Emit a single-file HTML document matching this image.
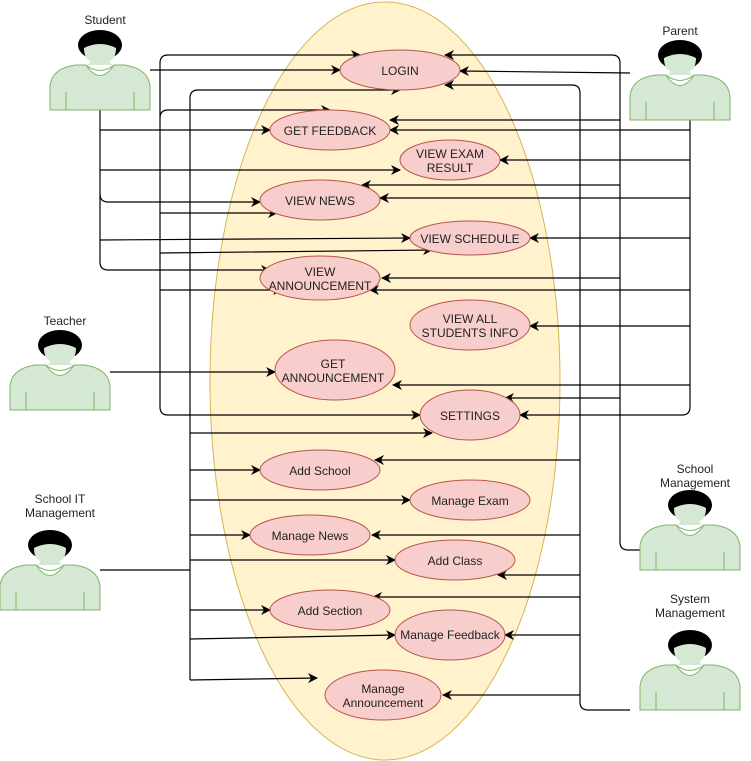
<!DOCTYPE html>
<html><head><meta charset="utf-8"><style>
body{margin:0;background:#fff;}
svg{display:block;font-family:"Liberation Sans",sans-serif;}
</style></head><body>
<svg width="751" height="761" viewBox="0 0 751 761" xmlns="http://www.w3.org/2000/svg">
<defs>
<marker id="a" markerWidth="10" markerHeight="10" refX="9" refY="5" orient="auto" markerUnits="userSpaceOnUse">
<path d="M0,0 L10,5 L0,10 L3,5 Z" fill="#000"/></marker>
<g id="actor">
<path d="M0,80 V56 Q2,38 26,35 L36,35 Q50,56 64,35 L74,35 Q98,38 100,56 V80 Z" fill="#d5e8d4" stroke="#82b366"/>
<line x1="16" y1="62" x2="16" y2="80" stroke="#82b366"/>
<line x1="84" y1="62" x2="84" y2="80" stroke="#82b366"/>
<ellipse cx="50" cy="15" rx="22" ry="15" fill="#000"/>
<path d="M34,18 Q50,10 66,18 Q66,28 60,31 Q60,35 64,35 L36,35 Q40,35 40,31 Q34,28 34,18 Z" fill="#d5e8d4"/>
<path d="M36,35 Q50,46 64,35" fill="none" stroke="#82b366"/>
</g>
</defs>
<ellipse cx="385" cy="381" rx="175" ry="379" fill="#fff2cc" stroke="#d6b656"/>
<g stroke="#000" stroke-width="1.2" fill="none">
<path d="M150,70 H340" marker-end="url(#a)"/>
<path d="M100,110 V262 Q100,270 108,270 H270" marker-end="url(#a)"/>
<path d="M100,130 H270" marker-end="url(#a)"/>
<path d="M100,170 H400" marker-end="url(#a)"/>
<path d="M100,194 Q100,202 108,202 H260" marker-end="url(#a)"/>
<path d="M100,240 L410,238" marker-end="url(#a)"/>
<path d="M160,407 V63 Q160,55 168,55 H360" marker-end="url(#a)"/>
<path d="M160,118 Q160,110 168,110 H330" marker-end="url(#a)"/>
<path d="M160,213 H277" marker-end="url(#a)"/>
<path d="M160,253 L432,250" marker-end="url(#a)"/>
<path d="M160,290 H282" marker-end="url(#a)"/>
<path d="M160,407 Q160,415 168,415 H420" marker-end="url(#a)"/>
<path d="M190,680 V98 Q190,90 198,90 H400" marker-end="url(#a)"/>
<path d="M190,433 H432" marker-end="url(#a)"/>
<path d="M190,470 H260" marker-end="url(#a)"/>
<path d="M190,500 H410" marker-end="url(#a)"/>
<path d="M190,535 H250" marker-end="url(#a)"/>
<path d="M190,560 H395" marker-end="url(#a)"/>
<path d="M190,610 H270" marker-end="url(#a)"/>
<path d="M190,639 L395,635" marker-end="url(#a)"/>
<path d="M190,680 L317,678" marker-end="url(#a)"/>
<path d="M100,570 H190"/>
<path d="M110,372 H275" marker-end="url(#a)"/>
<path d="M630,73 L460,71" marker-end="url(#a)"/>
<path d="M690,120 V407 Q690,415 682,415 H520" marker-end="url(#a)"/>
<path d="M690,130 H390" marker-end="url(#a)"/>
<path d="M690,160 H500" marker-end="url(#a)"/>
<path d="M690,198 H380" marker-end="url(#a)"/>
<path d="M690,238 H530" marker-end="url(#a)"/>
<path d="M690,290 H370" marker-end="url(#a)"/>
<path d="M690,326 H530" marker-end="url(#a)"/>
<path d="M690,385 H393" marker-end="url(#a)"/>
<path d="M640,550 H628 Q620,550 620,542 V63 Q620,55 612,55 H445" marker-end="url(#a)"/>
<path d="M620,120 H390" marker-end="url(#a)"/>
<path d="M620,185 H362" marker-end="url(#a)"/>
<path d="M620,278 H382" marker-end="url(#a)"/>
<path d="M620,398 H505" marker-end="url(#a)"/>
<path d="M630,710 H588 Q580,710 580,702 V93 Q580,85 572,85 H445" marker-end="url(#a)"/>
<path d="M580,460 H375" marker-end="url(#a)"/>
<path d="M580,535 H372" marker-end="url(#a)"/>
<path d="M580,575 H498" marker-end="url(#a)"/>
<path d="M580,597 H373" marker-end="url(#a)"/>
<path d="M580,635 H505" marker-end="url(#a)"/>
<path d="M580,695 H443" marker-end="url(#a)"/>
</g>
<g fill="#f8cecc" stroke="#b85450">
<ellipse cx="400" cy="70" rx="60" ry="20"/>
<ellipse cx="330" cy="130" rx="60" ry="20"/>
<ellipse cx="450" cy="160" rx="50" ry="20"/>
<ellipse cx="320" cy="200" rx="60" ry="20"/>
<ellipse cx="470" cy="238" rx="60" ry="17"/>
<ellipse cx="320" cy="278" rx="60" ry="22"/>
<ellipse cx="470" cy="325" rx="60" ry="25"/>
<ellipse cx="335" cy="370" rx="60" ry="30"/>
<ellipse cx="470" cy="415" rx="50" ry="25"/>
<ellipse cx="320" cy="470" rx="60" ry="20"/>
<ellipse cx="470" cy="500" rx="60" ry="20"/>
<ellipse cx="310" cy="535" rx="60" ry="20"/>
<ellipse cx="455" cy="560" rx="60" ry="20"/>
<ellipse cx="330" cy="610" rx="60" ry="20"/>
<ellipse cx="450" cy="635" rx="55" ry="25"/>
<ellipse cx="383" cy="695" rx="58" ry="25"/>
</g>
<g font-size="12" fill="#222" text-anchor="middle">
<text x="400" y="75">LOGIN</text>
<text x="330" y="135">GET FEEDBACK</text>
<text x="450" y="158">VIEW EXAM</text><text x="450" y="172">RESULT</text>
<text x="320" y="205">VIEW NEWS</text>
<text x="470" y="243">VIEW SCHEDULE</text>
<text x="320" y="276">VIEW</text><text x="320" y="290">ANNOUNCEMENT</text>
<text x="470" y="323">VIEW ALL</text><text x="470" y="337">STUDENTS INFO</text>
<text x="333" y="368">GET</text><text x="333" y="382">ANNOUNCEMENT</text>
<text x="470" y="420">SETTINGS</text>
<text x="320" y="475">Add School</text>
<text x="470" y="505">Manage Exam</text>
<text x="310" y="540">Manage News</text>
<text x="455" y="565">Add Class</text>
<text x="330" y="615">Add Section</text>
<text x="450" y="639">Manage Feedback</text>
<text x="383" y="693">Manage</text><text x="383" y="707">Announcement</text>
<text x="105" y="24">Student</text>
<text x="680" y="35">Parent</text>
<text x="65" y="325">Teacher</text>
<text x="60" y="503">School IT</text><text x="60" y="517">Management</text>
<text x="695" y="473">School</text><text x="695" y="487">Management</text>
<text x="690" y="603">System</text><text x="690" y="617">Management</text>
</g>
<use href="#actor" x="50" y="30"/>
<use href="#actor" x="630" y="40"/>
<use href="#actor" x="10" y="330"/>
<use href="#actor" x="0" y="530"/>
<use href="#actor" x="640" y="490"/>
<use href="#actor" x="640" y="630"/>
</svg>
</body></html>
